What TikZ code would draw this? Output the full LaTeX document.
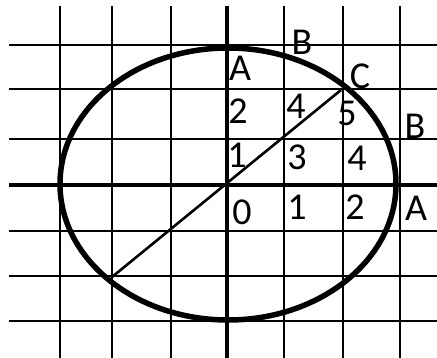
\documentclass[tikz,border=0pt]{standalone}
\usepackage{fontspec}
\setmainfont{Carlito}
\begin{document}
\begin{tikzpicture}[x=1pt,y=-1pt,
  gridline/.style={line width=1.8pt,black},
  axisline/.style={line width=3.8pt,black},
  curve/.style={line width=5.5pt,black},
  chord/.style={line width=2.6pt,black},
  lbl/.style={inner sep=0pt,font=\fontsize{38}{38}\selectfont}]
\useasboundingbox[fill=white] (0,0) rectangle (437,358);
% grid
\foreach \x in {60,112,171,284,343,400} \draw[gridline] (\x,6) -- (\x,358);
\foreach \y in {45,89,139,231,276,321} \draw[gridline] (9,\y) -- (437,\y);
% axes
\draw[axisline] (227,6) -- (227,358);
\draw[axisline] (9,185) -- (437,185);
% ellipse
\draw[curve] (228,184) ellipse [x radius=168, y radius=136];
% chord
\coordinate (c) at (341,90);
\coordinate (d) at (112,277);
\draw[chord] (c) -- (d);
% labels
\node[lbl] (bt) at (302,42) {B};
\node[lbl] (at) at (240,68) {A};
\node[lbl] (cl) at (360,76) {C};
\node[lbl] (n2a) at (238,111) {2};
\node[lbl] (n4a) at (296,106) {4};
\node[lbl] (n5) at (347,113) {5};
\node[lbl] (br) at (415,126) {B};
\node[lbl] (n1a) at (237,155) {1};
\node[lbl] (n3) at (297,157) {3};
\node[lbl] (n4b) at (357,158) {4};
\node[lbl] (n0) at (242,212) {0};
\node[lbl] (n1b) at (297,207) {1};
\node[lbl] (n2b) at (355,207) {2};
\node[lbl] (ar) at (416,208) {A};
\end{tikzpicture}
\end{document}
